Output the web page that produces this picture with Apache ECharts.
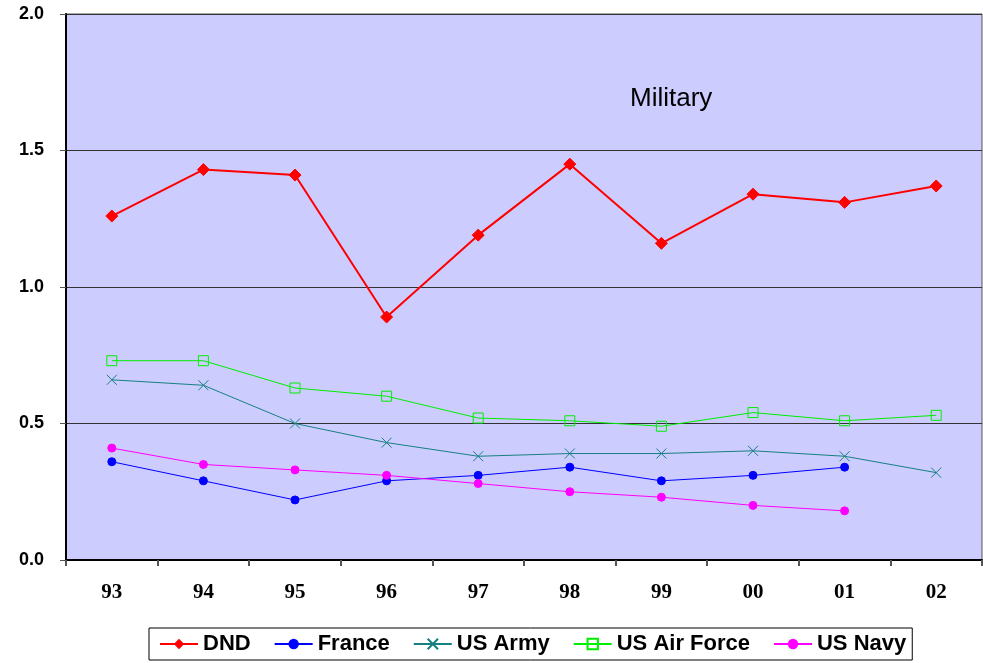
<!DOCTYPE html>
<html>
<head>
<meta charset="utf-8">
<script src="https://cdn.jsdelivr.net/npm/echarts@6/dist/echarts.min.js"></script>
<style>
  html, body { margin: 0; padding: 0; background: #fff; }
  #chart { width: 983px; height: 663px; }
</style>
</head>
<body>
<div id="chart"></div>
<script>
// Fiscal years shown along the bottom axis
const years = ['93', '94', '95', '96', '97', '98', '99', '00', '01', '02'];

// Ratio per organisation, one value per year (null = no data)
const dnd       = [1.26, 1.43, 1.41, 0.89, 1.19, 1.45, 1.16, 1.34, 1.31, 1.37];
const france    = [0.36, 0.29, 0.22, 0.29, 0.31, 0.34, 0.29, 0.31, 0.34, null];
const usArmy    = [0.66, 0.64, 0.50, 0.43, 0.38, 0.39, 0.39, 0.40, 0.38, 0.32];
const usAirForce= [0.73, 0.73, 0.63, 0.60, 0.52, 0.51, 0.49, 0.54, 0.51, 0.53];
const usNavy    = [0.41, 0.35, 0.33, 0.31, 0.28, 0.25, 0.23, 0.20, 0.18, null];

const chart = echarts.init(document.getElementById('chart'), null, { renderer: 'canvas' });

function lineSeries(name, data, color, symbol, size, width, extra) {
  return Object.assign({
    name: name,
    type: 'line',
    data: data,
    symbol: symbol,
    symbolSize: size,
    showAllSymbol: true,
    connectNulls: false,
    lineStyle: { color: color, width: width },
    itemStyle: { color: color, borderColor: color },
    emphasis: { disabled: true },
    animation: false
  }, extra || {});
}

chart.setOption({
  animation: false,
  backgroundColor: '#ffffff',
  grid: {
    left: 66, right: 1, top: 14, bottom: 103,
    show: true,
    backgroundColor: '#ccccff',
    borderColor: '#555555',
    borderWidth: 1
  },
  title: {
    text: 'Military',
    left: 625, top: 81,
    textStyle: { fontFamily: 'Liberation Sans', fontSize: 26, fontWeight: 'normal', color: '#000' }
  },
  legend: {
    bottom: 3,
    left: 149,
    padding: [5, 6, 5, 10],
    borderColor: '#000',
    borderWidth: 1,
    itemGap: 23,
    itemWidth: 38,
    itemHeight: 13,
    textStyle: { fontFamily: 'Liberation Sans', fontSize: 22, fontWeight: 'bold', color: '#000' },
    data: ['DND', 'France', 'US Army', 'US Air Force', 'US Navy']
  },
  xAxis: {
    type: 'category',
    data: years,
    boundaryGap: true,
    axisLine: { lineStyle: { color: '#000', width: 2 } },
    axisTick: { show: true, length: 6, lineStyle: { color: '#555', width: 2 } },
    axisLabel: {
      margin: 22,
      fontFamily: 'Liberation Serif', fontSize: 21, fontWeight: 'bold', color: '#000'
    },
    splitLine: { show: false }
  },
  yAxis: {
    type: 'value',
    min: 0, max: 2, interval: 0.5,
    axisLine: { show: true, lineStyle: { color: '#000', width: 2 } },
    axisTick: { show: true, length: 6, lineStyle: { color: '#555' } },
    axisLabel: {
      margin: 22,
      fontFamily: 'Liberation Sans', fontSize: 18, fontWeight: 'bold', color: '#000',
      formatter: v => v.toFixed(1)
    },
    splitLine: { show: true, lineStyle: { color: '#333', width: 1 } }
  },
  series: [
    lineSeries('DND', dnd, '#ff0000', 'diamond', 12, 2),
    lineSeries('France', france, '#0000ff', 'circle', 8, 1),
    lineSeries('US Army', usArmy, '#168080', 'path://M0,0L10,10M10,0L0,10', 10, 1,
      { itemStyle: { color: 'none', borderColor: '#168080', borderWidth: 1 } }),
    lineSeries('US Air Force', usAirForce, '#00ee00', 'rect', 10, 1,
      { itemStyle: { color: 'none', borderColor: '#00ee00', borderWidth: 1 } }),
    lineSeries('US Navy', usNavy, '#ff00ff', 'circle', 8, 1)
  ]
});
</script>
</body>
</html>
